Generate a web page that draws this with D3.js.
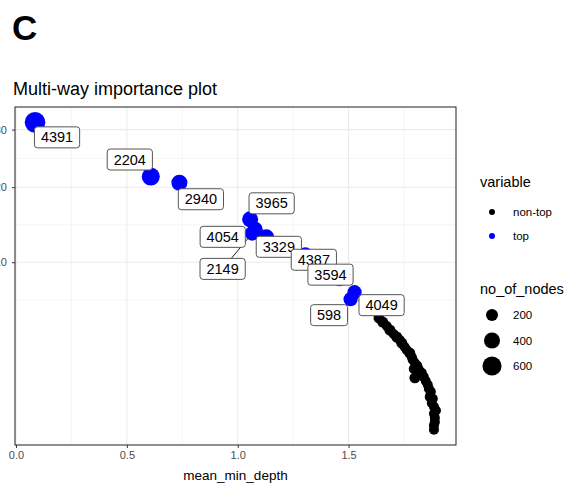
<!DOCTYPE html>
<html>
<head>
<meta charset="utf-8">
<script src="https://cdn.jsdelivr.net/npm/d3@7"></script>
<style>
  body { margin: 0; background: #fff; }
  svg { font-family: "Liberation Sans", Arial, Helvetica, sans-serif; display: block; }
</style>
</head>
<body>
<script>
// top variables (labelled, blue)
var topNames = ["4391", "2204", "2940", "3965", "4054", "2149", "3329", "4387", "3594", "598", "4049"];
var topDepth = [0.086, 0.608, 0.737, 1.056, 1.079, 1.065, 1.129, 1.305, 1.459, 1.509, 1.527];
var topRoot = [31.4, 21.7, 20.7, 15.3, 13.96, 13.44, 12.94, 10.9, 8.22, 6.34, 6.97];
var topNodes = [715, 526, 400, 400, 340, 320, 400, 300, 300, 300, 300];

// non-top variables (black)
var nonTopDepth = [1.568, 1.594, 1.604, 1.636, 1.654, 1.672, 1.686, 1.703, 1.717, 1.731, 1.740, 1.753,
  1.762, 1.776, 1.785, 1.789, 1.799, 1.808, 1.794, 1.817, 1.830, 1.839, 1.799, 1.848, 1.857, 1.862,
  1.871, 1.866, 1.880, 1.875, 1.885, 1.894, 1.885, 1.889, 1.889, 1.885, 1.885];
var nonTopRoot = [6.25, 5.66, 5.41, 4.79, 4.49, 4.20, 3.92, 3.65, 3.45, 3.26, 3.07, 2.83,
  2.66, 2.49, 2.28, 2.13, 1.97, 1.83, 1.69, 1.65, 1.52, 1.35, 1.31, 1.19, 1.05, 0.91,
  0.81, 0.66, 0.61, 0.50, 0.41, 0.33, 0.27, 0.20, 0.14, 0.10, 0.058];
var nonTopNodes = [125, 125, 125, 140, 160, 125, 160, 125, 160, 125, 160, 125,
  125, 160, 125, 125, 125, 160, 125, 125, 125, 125, 160, 125, 125, 125,
  125, 125, 125, 125, 125, 125, 125, 125, 125, 125, 125];

var xTicks = [0, 0.5, 1, 1.5];
var yTicks = [10, 20, 30];
var sizeBreaks = [200, 400, 600];
var colourLabels = ["non-top", "top"];

// label box offsets from their point (repel layout), px
var labelDx = [22, -21, 21.5, 21.5, -32.5, -29.5, 12.5, 8.5, -9, -21.5, 27];
var labelDy = [15, -17, 16.5, -16, 7.5, 35.5, 9.5, 5.5, -4.5, 16, 13];

var W = 580, H = 498;
var panel = {left: 15, top: 107, right: 456, bottom: 445};

var svg = d3.select("body").append("svg")
  .attr("width", W)
  .attr("height", H);

var allDepth = topDepth.concat(nonTopDepth);
var allRoot = topRoot.concat(nonTopRoot);

// ggplot-like 5% expansion
var xe = d3.extent(allDepth), xpad = (xe[1] - xe[0]) * 0.05;
var x = d3.scaleLinear()
  .domain([xe[0] - xpad, xe[1] + xpad])
  .range([panel.left, panel.right]);

var se = d3.extent(allRoot).map(Math.sqrt), spad = (se[1] - se[0]) * 0.05;
var sLo = se[0] - spad, sHi = se[1] + spad;
var y = d3.scaleSqrt()
  .domain([Math.sign(sLo) * sLo * sLo, sHi * sHi])
  .range([panel.bottom, panel.top]);

var r = d3.scaleSqrt().domain([0, 600]).range([1.18, 9.55]);

// minor breaks, computed in sqrt space like ggplot
var sb = yTicks.map(Math.sqrt), bd = sb[1] - sb[0];
var sbx = [sb[0] - bd].concat(sb, [sb[sb.length - 1] + bd]);
var yMinor = [];
for (var i = 0; i < sbx.length - 1; i++) yMinor.push(Math.pow((sbx[i] + sbx[i + 1]) / 2, 2));
yMinor = yMinor.filter(function(v) { return y(v) > panel.top && y(v) < panel.bottom; });
var xMinor = [0.25, 0.75, 1.25, 1.75];

// "C" tag and title
svg.append("text").attr("x", 12).attr("y", 40)
  .style("font-size", "35px").style("font-weight", "bold").text("C");
svg.append("text").attr("x", 13).attr("y", 95)
  .style("font-size", "18px").text("Multi-way importance plot");

var grid = svg.append("g");
grid.selectAll(".xminor").data(xMinor).enter().append("line")
  .attr("x1", x).attr("x2", x).attr("y1", panel.top).attr("y2", panel.bottom)
  .attr("stroke", "#f2f2f2").attr("stroke-width", 0.8);
grid.selectAll(".yminor").data(yMinor).enter().append("line")
  .attr("y1", y).attr("y2", y).attr("x1", panel.left).attr("x2", panel.right)
  .attr("stroke", "#f2f2f2").attr("stroke-width", 0.8);
grid.selectAll(".xmajor").data(xTicks).enter().append("line")
  .attr("x1", x).attr("x2", x).attr("y1", panel.top).attr("y2", panel.bottom)
  .attr("stroke", "#ebebeb").attr("stroke-width", 1.1);
grid.selectAll(".ymajor").data(yTicks).enter().append("line")
  .attr("y1", y).attr("y2", y).attr("x1", panel.left).attr("x2", panel.right)
  .attr("stroke", "#ebebeb").attr("stroke-width", 1.1);

// axes
var xAxis = svg.append("g")
  .attr("transform", "translate(0," + panel.bottom + ")")
  .call(d3.axisBottom(x).tickValues(xTicks).tickFormat(d3.format(".1f")).tickSize(3).tickPadding(3));
var yAxis = svg.append("g")
  .attr("transform", "translate(" + panel.left + ",0)")
  .call(d3.axisLeft(y).tickValues(yTicks).tickSize(3).tickPadding(5));
[xAxis, yAxis].forEach(function(a) {
  a.select(".domain").remove();
  a.selectAll(".tick line").attr("stroke", "#333");
  a.selectAll(".tick text").attr("fill", "#4d4d4d")
    .style("font-size", "11px").style("font-family", "Liberation Sans, Arial, sans-serif");
});

svg.append("text").attr("x", (panel.left + panel.right) / 2).attr("y", 480)
  .attr("text-anchor", "middle").style("font-size", "13.5px").text("mean_min_depth");

// points
var plot = svg.append("g");
plot.selectAll(".nontop").data(nonTopDepth).enter().append("circle")
  .attr("cx", function(d) { return x(d); })
  .attr("cy", function(d, i) { return y(nonTopRoot[i]); })
  .attr("r", function(d, i) { return r(nonTopNodes[i]); })
  .attr("fill", "#000");

var tops = topNames.map(function(n, i) {
  return {name: n, px: x(topDepth[i]), py: y(topRoot[i]), r: r(topNodes[i]),
    bx: x(topDepth[i]) + labelDx[i], by: y(topRoot[i]) + labelDy[i]};
});
plot.selectAll(".top").data(tops).enter().append("circle")
  .attr("cx", function(d) { return d.px; })
  .attr("cy", function(d) { return d.py; })
  .attr("r", function(d) { return d.r; })
  .attr("fill", "#0000ff");

// labels
var bw = 45, bh = 21;
tops.forEach(function(d) { d.w = d.name.length * 8.3 + 12; });
var segs = tops.filter(function(d) {
  var dx = d.px - d.bx, dy = d.py - d.by;
  var t = Math.min(Math.abs((d.w / 2) / (dx || 1e-9)), Math.abs((bh / 2) / (dy || 1e-9)));
  d.sx = d.bx + dx * t; d.sy = d.by + dy * t;
  var len = Math.hypot(d.px - d.sx, d.py - d.sy);
  d.ex = d.px - (d.px - d.sx) / len * d.r * 0.6;
  d.ey = d.py - (d.py - d.sy) / len * d.r * 0.6;
  return len - d.r > 8;
});
plot.selectAll(".seg").data(segs).enter().append("line")
  .attr("x1", function(d) { return d.sx; }).attr("y1", function(d) { return d.sy; })
  .attr("x2", function(d) { return d.ex; }).attr("y2", function(d) { return d.ey; })
  .attr("stroke", "#222").attr("stroke-width", 1);

var lab = plot.selectAll(".lab").data(tops).enter().append("g");
lab.append("rect")
  .attr("x", function(d) { return d.bx - d.w / 2; })
  .attr("y", function(d) { return d.by - bh / 2; })
  .attr("width", function(d) { return d.w; })
  .attr("height", bh)
  .attr("rx", 3).attr("ry", 3)
  .attr("fill", "#fff").attr("stroke", "#555").attr("stroke-width", 1);
lab.append("text")
  .attr("x", function(d) { return d.bx; })
  .attr("y", function(d) { return d.by + 5; })
  .attr("text-anchor", "middle")
  .style("font-size", "14.5px")
  .text(function(d) { return d.name; });

// panel border
svg.append("rect")
  .attr("x", panel.left).attr("y", panel.top)
  .attr("width", panel.right - panel.left).attr("height", panel.bottom - panel.top)
  .attr("fill", "none").attr("stroke", "#333").attr("stroke-width", 1.1);

// legends
var leg = svg.append("g");
leg.append("text").attr("x", 480).attr("y", 187).style("font-size", "14.5px").text("variable");
var colLeg = leg.selectAll(".col").data(colourLabels).enter().append("g")
  .attr("transform", function(d, i) { return "translate(492," + (212 + i * 24) + ")"; });
colLeg.append("circle").attr("r", 3)
  .attr("fill", function(d, i) { return i === 0 ? "#000" : "#0000ff"; });
colLeg.append("text").attr("x", 21).attr("y", 4).style("font-size", "11.5px").text(function(d) { return d; });

leg.append("text").attr("x", 480).attr("y", 294).style("font-size", "14.5px").text("no_of_nodes");
var sizeLeg = leg.selectAll(".size").data(sizeBreaks).enter().append("g")
  .attr("transform", function(d, i) { return "translate(492," + (315 + i * 25.5) + ")"; });
sizeLeg.append("circle").attr("r", function(d) { return r(d); }).attr("fill", "#000");
sizeLeg.append("text").attr("x", 21).attr("y", 4).style("font-size", "11.5px").text(function(d) { return d; });
</script>
</body>
</html>
